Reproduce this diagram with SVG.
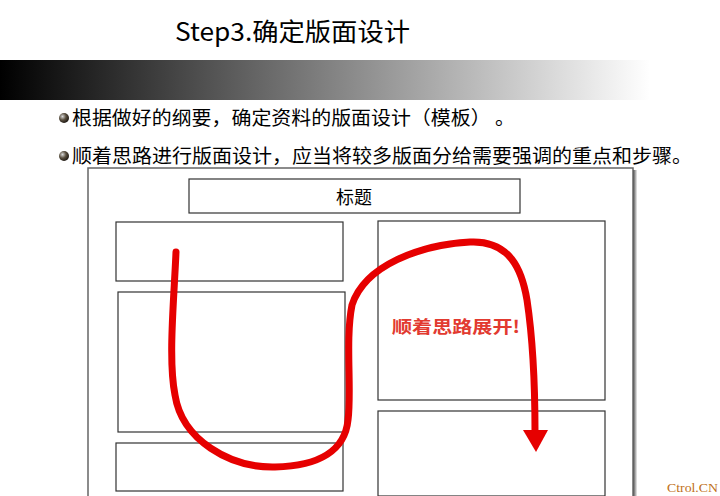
<svg xmlns="http://www.w3.org/2000/svg" width="720" height="496" viewBox="0 0 720 496">
<defs>
<linearGradient id="bar" x1="0" y1="0" x2="1" y2="0">
<stop offset="0" stop-color="#000"/>
<stop offset="0.5" stop-color="#808080"/>
<stop offset="1" stop-color="#fff"/>
</linearGradient>
<radialGradient id="ball" cx="0.35" cy="0.35" r="0.7">
<stop offset="0" stop-color="#d8d8d8"/>
<stop offset="0.5" stop-color="#5a5040"/>
<stop offset="1" stop-color="#1a1510"/>
</radialGradient>
<linearGradient id="shadow" x1="0" y1="0" x2="1" y2="0">
<stop offset="0" stop-color="#444"/>
<stop offset="1" stop-color="#eee"/>
</linearGradient>
<style>
.cn{font-family:"Noto Sans CJK SC","Noto Sans",sans-serif;}
.box{fill:#fff;stroke:#333;stroke-width:1.2;}
.bul{font-size:19px;fill:#000;}
</style>
</defs>
<rect width="720" height="496" fill="#fff"/>
<text class="cn" x="175" y="41" font-size="25" textLength="235" lengthAdjust="spacingAndGlyphs" fill="#000">Step3.确定版面设计</text>
<rect x="0" y="60" width="650" height="40" fill="url(#bar)"/>
<circle cx="64" cy="118" r="5" fill="url(#ball)"/>
<text class="cn bul" x="72" y="125" textLength="443" lengthAdjust="spacingAndGlyphs">根据做好的纲要，确定资料的版面设计（模板） 。</text>
<circle cx="64" cy="156" r="5" fill="url(#ball)"/>
<text class="cn bul" x="72" y="163" textLength="620" lengthAdjust="spacingAndGlyphs">顺着思路进行版面设计，应当将较多版面分给需要强调的重点和步骤。</text>
<g id="frame">
<rect x="633" y="170" width="4" height="330" fill="url(#shadow)"/>
<rect x="88" y="168" width="545" height="340" fill="#fff" stroke="#666" stroke-width="1.5"/>
</g>
<g id="title">
<rect class="box" x="189" y="179" width="331" height="34"/>
<text class="cn" x="354" y="204" font-size="18" text-anchor="middle" fill="#000">标题</text>
</g>
<g id="left1"><rect class="box" x="116" y="222" width="227" height="59"/></g>
<g id="left2"><rect class="box" x="118" y="292" width="227" height="140"/></g>
<g id="left3"><rect class="box" x="116" y="443" width="227" height="48"/></g>
<g id="right1"><rect class="box" x="378" y="221" width="227" height="179"/></g>
<g id="right2"><rect class="box" x="378" y="411" width="227" height="85"/></g>
<g id="connectors">
<path d="M176,252 C174,300 168,360 175,395 C182,440 230,468 275,467 C320,466 345,450 348,420 C352,390 345,340 352,305 C365,265 420,245 470,242 C510,240 522,270 527,300 C533,340 535,390 535,432" fill="none" stroke="#e60000" stroke-width="7" stroke-linecap="round"/>
<path d="M523,430 L548,430 L536,452 z" fill="#e60000"/>
</g>
<text class="cn" x="392" y="333" font-size="17" font-weight="bold" fill="#e23a30" textLength="128" lengthAdjust="spacingAndGlyphs">顺着思路展开!</text>
<text x="667" y="492" font-family="Liberation Serif, serif" font-size="13" fill="#c07020" textLength="51" lengthAdjust="spacingAndGlyphs">Ctrol.CN</text>
</svg>
